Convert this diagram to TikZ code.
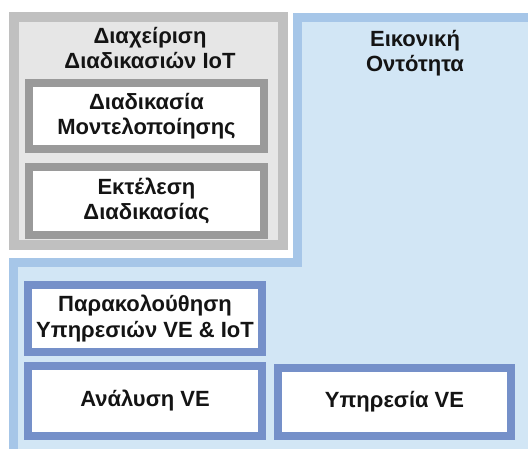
\documentclass[tikz,border=0pt]{standalone}
\usepackage{fontspec}
\setmainfont{Liberation Sans}
\definecolor{greyframe}{HTML}{C0C0C0}
\definecolor{greyfill}{HTML}{E6E6E6}
\definecolor{greybox}{HTML}{9A9A9A}
\definecolor{blueframe}{HTML}{A6C6E8}
\definecolor{bluefill}{HTML}{D2E6F5}
\definecolor{bluebox}{HTML}{7590C9}
\definecolor{inktext}{HTML}{141414}
\tikzset{
    label text/.style={align=center, text=inktext, font=\bfseries\fontsize{22}{25.5}\selectfont},
    grey task/.style={label text, draw=greybox, fill=white, line width=8pt, inner sep=0pt},
    blue task/.style={label text, draw=bluebox, fill=white, line width=8pt, inner sep=0pt}
}
\begin{document}
\begin{tikzpicture}[x=1pt, y=-1pt]

    \useasboundingbox (0,0) rectangle (528,448);
    \clip (0,0) rectangle (528,448);

    % virtual entity frame (L shape)
    \draw[blueframe, fill=bluefill, line width=9pt]
        (297.5,17) -- (545,17) -- (545,465) -- (13.5,465)
        -- (13.5,262.5) -- (297.5,262.5) -- cycle;
    \node[label text] (ve) at (415,53) {Εικονική\\Οντότητα};

    % IoT process management frame
    \draw[greyframe, fill=greyfill, line width=10pt] (14,17) rectangle (283,245);
    \node[label text] (mgmt) at (150,48) {Διαχείριση\\Διαδικασιών IoT};

    % process boxes
    \node[grey task, minimum width=235pt, minimum height=66pt] (model) at (146.5,116)
        {Διαδικασία\\Μοντελοποίησης};
    \node[grey task, minimum width=235pt, minimum height=68pt] (exec) at (146.5,201)
        {Εκτέλεση\\Διαδικασίας};

    % service boxes
    \node[blue task, minimum width=234pt, minimum height=67pt] (monitor) at (145,318.5)
        {Παρακολούθηση\\Υπηρεσιών VE \& IoT};
    \node[blue task, minimum width=234pt, minimum height=70pt] (analysis) at (145,401)
        {Ανάλυση VE};
    \node[blue task, minimum width=233pt, minimum height=68pt] (service) at (394.5,402)
        {Υπηρεσία VE};

\end{tikzpicture}
\end{document}
